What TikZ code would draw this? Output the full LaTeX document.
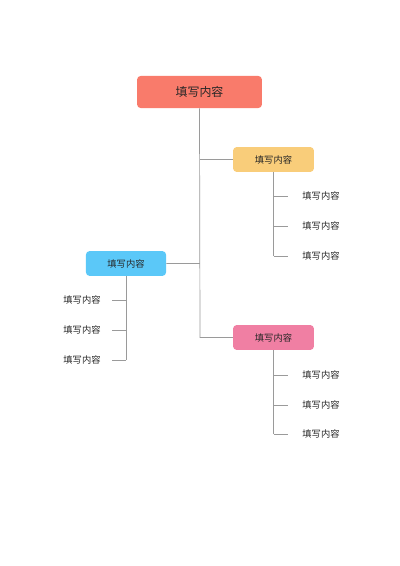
\documentclass[tikz,border=0pt]{standalone}
\usepackage{fontspec}
\setmainfont{Noto Sans CJK SC}
\usetikzlibrary{positioning}

\definecolor{rootred}{HTML}{F97B6B}
\definecolor{topyellow}{HTML}{F9CD7A}
\definecolor{midblue}{HTML}{5BC8F8}
\definecolor{lowpink}{HTML}{F07FA3}
\definecolor{linegray}{HTML}{9A9A9A}

\begin{document}
\begin{tikzpicture}[x=0.025cm,y=-0.025cm,
    box/.style={rounded corners=2.5pt,minimum width=81\pgflinewidth,text=black!85},
    leaf/.style={font=\fontsize{6.6pt}{7pt}\selectfont,text=black!85},
    wire/.style={draw=linegray,line width=0.5pt}]
          \useasboundingbox (0,0) rectangle (400,566);
          \node (root) [box,fill=rootred,minimum width=3.12cm,minimum height=0.8cm,
                        font=\fontsize{8.5pt}{9pt}\selectfont] at (199.5,92) {填写内容};
          \node (yel) [box,fill=topyellow,minimum width=2.02cm,minimum height=0.62cm,
                       font=\fontsize{6.6pt}{7pt}\selectfont] at (273.5,159.5) {填写内容};
          \node (blu) [box,fill=midblue,minimum width=2.0cm,minimum height=0.62cm,
                       font=\fontsize{6.6pt}{7pt}\selectfont] at (126,263.5) {填写内容};
          \node (pnk) [box,fill=lowpink,minimum width=2.02cm,minimum height=0.62cm,
                       font=\fontsize{6.6pt}{7pt}\selectfont] at (273.5,337.5) {填写内容};

          % leaves
          \foreach \y [count=\i] in {196,226,256}
            \node (yl\i) [leaf] at (321,\y) {填写内容};
          \foreach \y [count=\i] in {300,330,360}
            \node (bl\i) [leaf] at (82,\y) {填写内容};
          \foreach \y [count=\i] in {375,405,434}
            \node (pl\i) [leaf] at (321,\y) {填写内容};

          \coordinate (trunk) at (200,337.5);
          \path[wire]
          (root.south) -- (trunk) -- (pnk.west)
          (root.south |- yel.west) -- (yel.west)
          (root.south |- blu.east) -- (blu.east);

          \path[wire] (yel.south) -- (yel.south |- yl3);
          \path[wire] (blu.south) -- (blu.south |- bl3);
          \path[wire] (pnk.south) -- (pnk.south |- pl3);
          \foreach \i in {1,2,3} {
            \path[wire] (yel.south |- yl\i) -- ([xshift=-13\pgflinewidth]yl\i.west);
            \path[wire] (blu.south |- bl\i) -- ([xshift=9\pgflinewidth]bl\i.east);
            \path[wire] (pnk.south |- pl\i) -- ([xshift=-13\pgflinewidth]pl\i.west);
          }
        \end{tikzpicture}
\end{document}
